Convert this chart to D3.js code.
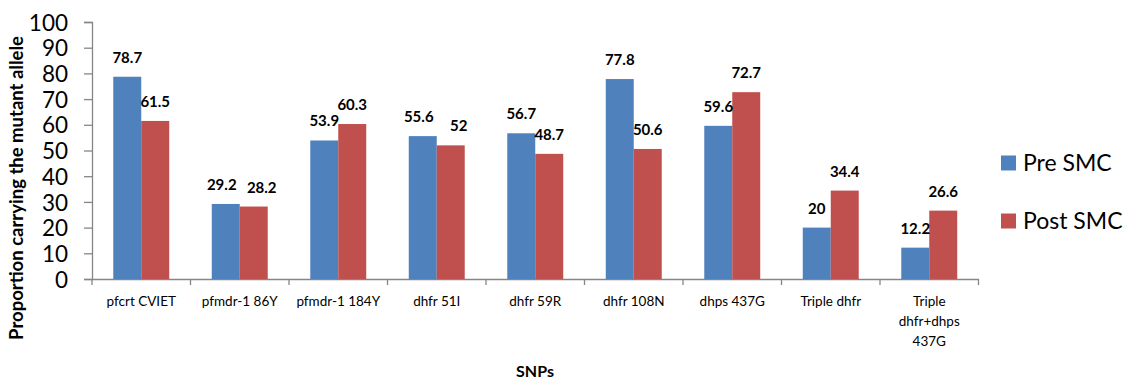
<!DOCTYPE html>
<html>
<head>
<meta charset="utf-8">
<script src="https://cdn.jsdelivr.net/npm/d3@7"></script>
<style>
  html, body { margin: 0; padding: 0; background: #fff; }
  svg { display: block; font-family: Lato, "Open Sans", sans-serif; }
</style>
</head>
<body>
<svg id="chart" width="1128" height="383"></svg>
<script>
// SNP categories (label lines) and mutant-allele proportions
const categories = [
  ["pfcrt CVIET"], ["pfmdr-1 86Y"], ["pfmdr-1 184Y"], ["dhfr 51I"], ["dhfr 59R"],
  ["dhfr 108N"], ["dhps 437G"], ["Triple dhfr"], ["Triple", "dhfr+dhps", "437G"]
];
const preSMC  = [78.7, 29.2, 53.9, 55.6, 56.7, 77.8, 59.6, 20, 12.2];
const postSMC = [61.5, 28.2, 60.3, 52, 48.7, 50.6, 72.7, 34.4, 26.6];
const seriesNames = ["Pre SMC", "Post SMC"];
const yTicks = [0, 10, 20, 30, 40, 50, 60, 70, 80, 90, 100];

const colors = ["#4F81BD", "#C0504D"];
const axisColor = "#868686";
const svg = d3.select("#chart");

const plot = { left: 92, right: 978.5, top: 22, bottom: 279 };

const x = d3.scaleBand()
  .domain(d3.range(categories.length))
  .range([plot.left, plot.right])
  .paddingInner(0).paddingOuter(0);

// two bars side by side, centred in each category
const inner = d3.scaleBand()
  .domain([0, 1])
  .range([0, x.bandwidth()])
  .paddingInner(0)
  .paddingOuter(0.76);

const y = d3.scaleLinear().domain([0, 100]).range([plot.bottom, plot.top]);

// y axis
const yAxis = svg.append("g")
  .attr("transform", `translate(${plot.left},0)`)
  .call(d3.axisLeft(y).tickValues(yTicks).tickSize(8).tickPadding(16).tickFormat(d3.format("d")));
yAxis.select(".domain").attr("stroke", axisColor).attr("stroke-width", 1.3);
yAxis.selectAll(".tick line").attr("stroke", axisColor).attr("stroke-width", 1.3);
yAxis.selectAll(".tick text")
  .attr("font-size", 22.5).attr("fill", "#000").attr("font-family", "Lato, sans-serif")
  .attr("dy", "0.36em");

// x axis
const xAxis = svg.append("g")
  .attr("transform", `translate(0,${plot.bottom})`)
  .call(d3.axisBottom(x).tickSize(0).tickFormat(""));
xAxis.select(".domain").attr("stroke", axisColor).attr("stroke-width", 1.3);
xAxis.selectAll(".tick").remove();

// category boundary ticks
const bounds = d3.range(categories.length + 1).map(i => plot.left + i * x.step());
svg.append("g").selectAll("line").data(bounds).join("line")
  .attr("x1", d => d).attr("x2", d => d)
  .attr("y1", plot.bottom).attr("y2", plot.bottom + 6)
  .attr("stroke", axisColor).attr("stroke-width", 1.3);

// category labels
const catLabels = svg.append("g").selectAll("text").data(categories).join("text")
  .attr("text-anchor", "middle")
  .attr("font-size", 13.5)
  .attr("fill", "#000")
  .attr("x", (d, i) => x(i) + x.bandwidth() / 2)
  .attr("y", 306);
catLabels.selectAll("tspan").data(d => d).join("tspan")
  .attr("x", function () { return d3.select(this.parentNode).attr("x"); })
  .attr("dy", (d, i) => i === 0 ? 0 : 20)
  .text(d => d);

// bars
const series = [preSMC, postSMC];
const groups = svg.append("g").selectAll("g").data(series).join("g")
  .attr("fill", (d, i) => colors[i]);
groups.each(function (vals, s) {
  d3.select(this).selectAll("rect").data(vals).join("rect")
    .attr("x", (v, i) => x(i) + inner(s))
    .attr("width", inner.bandwidth())
    .attr("y", v => y(v))
    .attr("height", v => y(0) - y(v));
});

// value labels; when a pair sits at nearly the same height, push the labels apart
const nudge = (i, s) => {
  const close = Math.abs(y(preSMC[i]) - y(postSMC[i])) < 14;
  if (!close) return 0;
  return s === 0 ? -4 : 8;
};
const labelLayer = svg.append("g");
series.forEach((vals, s) => {
  labelLayer.append("g").selectAll("text").data(vals).join("text")
    .attr("text-anchor", "middle")
    .attr("font-size", 15)
    .attr("font-weight", "bold")
    .attr("fill", "#000")
    .attr("x", (v, i) => x(i) + inner(s) + inner.bandwidth() / 2 + nudge(i, s))
    .attr("y", v => y(v) - 14)
    .text(v => v);
});

// axis titles
svg.append("text")
  .attr("transform", `translate(23,188) rotate(-90)`)
  .attr("text-anchor", "middle")
  .attr("font-size", 18.5).attr("font-weight", "bold")
  .text("Proportion carrying the mutant allele");

svg.append("text")
  .attr("x", 535).attr("y", 377)
  .attr("text-anchor", "middle")
  .attr("font-size", 16).attr("font-weight", "bold")
  .text("SNPs");

// legend
const legend = svg.append("g").selectAll("g").data(seriesNames).join("g")
  .attr("transform", (d, i) => `translate(1001,${163 + i * 58})`);
legend.append("rect")
  .attr("x", 0).attr("y", -7.5).attr("width", 15).attr("height", 15)
  .attr("fill", (d, i) => colors[i]);
legend.append("text")
  .attr("x", 22).attr("y", 0).attr("dy", "0.35em")
  .attr("font-size", 23).attr("fill", "#000")
  .text(d => d);
</script>
</body>
</html>
